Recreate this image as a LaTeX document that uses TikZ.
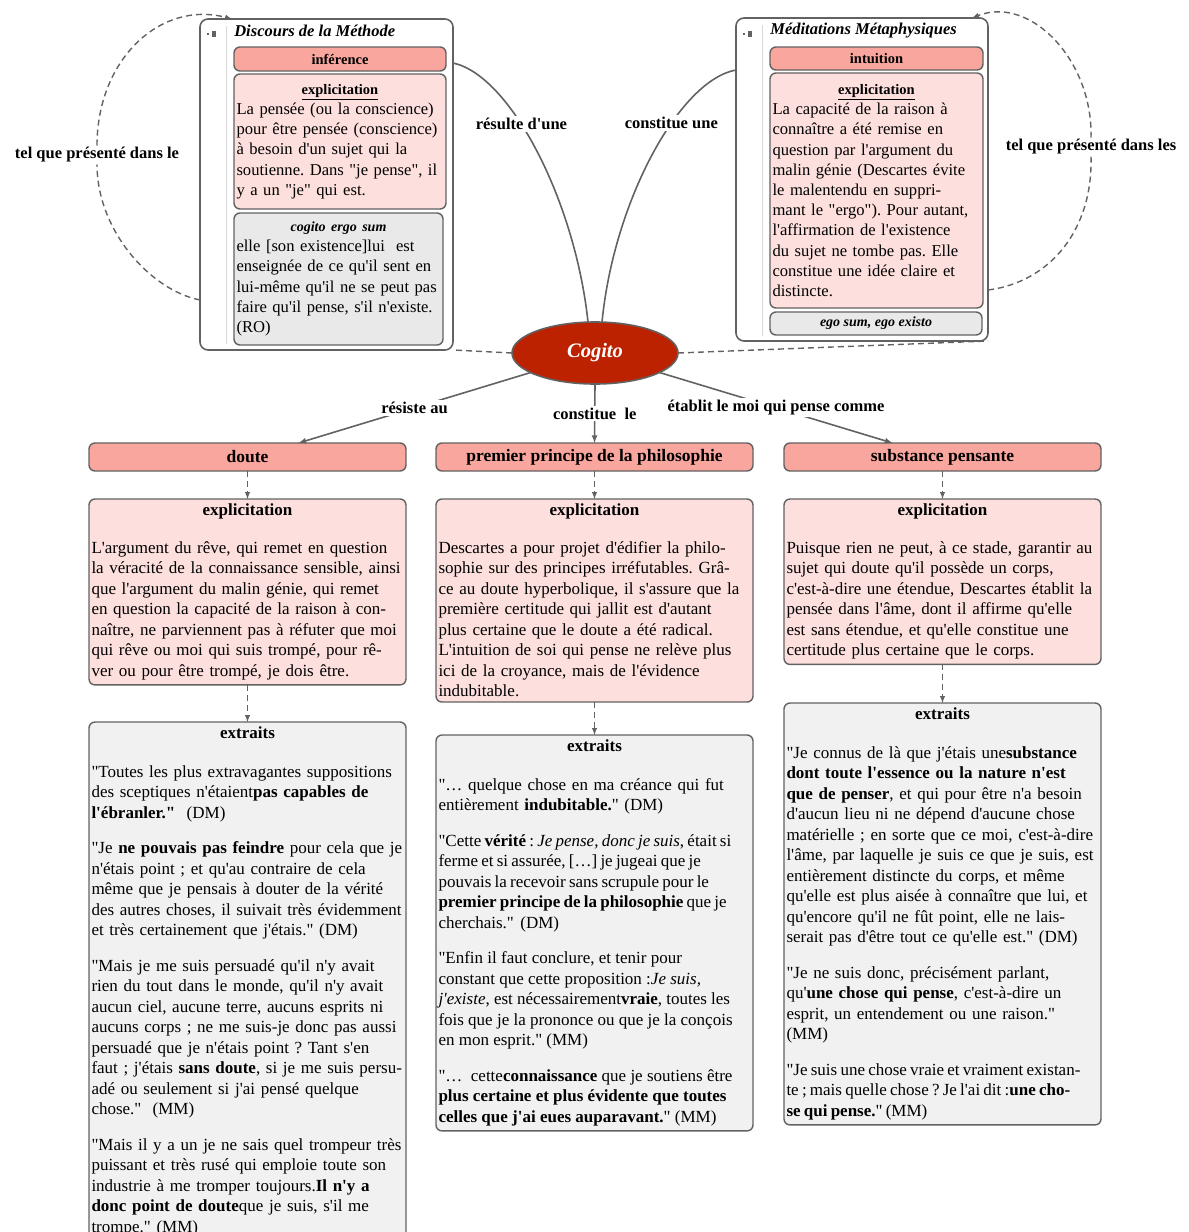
\documentclass[tikz,border=0pt]{standalone}
\usepackage{fontspec}
\setmainfont{Liberation Serif}[Ligatures=TeXOff]
\usetikzlibrary{arrows,shapes.geometric}
\frenchspacing
\definecolor{saumon}{RGB}{249,166,158}
\definecolor{rose}{RGB}{253,224,221}
\definecolor{grisclair}{RGB}{233,233,233}
\definecolor{grisfond}{RGB}{241,241,241}
\definecolor{trait}{RGB}{98,98,98}
\definecolor{rouge}{RGB}{188,34,0}

\begin{document}
\begin{tikzpicture}[x=1pt,y=-1pt]
\tikzstyle{every node}=[outer sep=0pt]
\tikzstyle{cadre}=[draw=trait, line width=1.6pt, rounded corners=8pt, fill=white, anchor=north west]
\tikzstyle{titre}=[draw=trait, line width=1.4pt, rounded corners=6pt, fill=saumon, anchor=north west, font=\fontsize{17.5}{20}\selectfont\bfseries]
\tikzstyle{petittitre}=[titre, font=\fontsize{14.5}{17}\selectfont\bfseries]
\tikzstyle{expli}=[draw=trait, line width=1.4pt, rounded corners=6pt, fill=rose, anchor=north west, inner xsep=2.5pt, inner ysep=5pt, text width=312pt, font=\fontsize{17}{20.5}\selectfont]
\tikzstyle{extrait}=[expli, fill=grisfond]
\tikzstyle{petitexpli}=[expli, text width=207pt, font=\fontsize{16.6}{20.2}\selectfont]
\tikzstyle{lien}=[draw=trait, line width=1.6pt]
\tikzstyle{pointille}=[lien, line width=1.4pt, dash pattern=on 6pt off 4pt]
\tikzstyle{etiq}=[fill=white, inner sep=2pt, font=\fontsize{16.5}{19}\selectfont\bfseries]
\useasboundingbox (0,0) rectangle (1189,1232);

\node[cadre, minimum width=253pt, minimum height=331pt] (dm) at (200,19) {};
\draw[black!15, line width=1pt] (226,26) -- (226,344);
\fill[trait] (207,33) rectangle (209,35);
\fill[trait] (212,31) rectangle (216,37);
\node[anchor=west, font=\fontsize{16.5}{19}\selectfont\bfseries\itshape] (dmtitre) at (231,31) {Discours de la Méthode};
\node[petittitre, minimum width=212pt, minimum height=24pt] (inference) at (234,47) {inférence};
\node[petitexpli, minimum height=135pt] (dmexp) at (234,74) {{\centering\fontsize{14.5}{17}\selectfont\bfseries\underline{explicitation}\par}\raggedright
La pensée (ou la conscience)\\
pour être pensée (conscience)\\
à besoin d'un sujet qui la\\
soutienne. Dans "je pense", il\\
y a un "je" qui est.};
\node[petitexpli, fill=grisclair, text width=204pt, minimum height=132pt] (dmcitation) at (234,213) {{\centering\fontsize{14}{17}\selectfont\bfseries\itshape cogito ergo sum\par}\raggedright
elle [son existence]lui\ \ est\\
enseignée de ce qu'il sent en\\
lui-même qu'il ne se peut pas\\
faire qu'il pense, s'il n'existe.\\
(RO)};

\node[cadre, minimum width=252pt, minimum height=323pt] (mm) at (736,18) {};
\draw[black!15, line width=1pt] (762,25) -- (762,336);
\fill[trait] (743,33) rectangle (745,35);
\fill[trait] (748,31) rectangle (752,37);
\node[anchor=west, font=\fontsize{16.5}{19}\selectfont\bfseries\itshape] (mmtitre) at (767,31) {Méditations Métaphysiques};
\node[petittitre, minimum width=213pt, minimum height=23pt] (intuition) at (770,47) {intuition};
\node[petitexpli, text width=208pt, minimum height=235pt] (mmexp) at (770,73) {{\centering\fontsize{14.5}{17}\selectfont\bfseries\underline{explicitation}\par}\raggedright
La capacité de la raison à\\
connaître a été remise en\\
question par l'argument du\\
malin génie (Descartes évite\\
le malentendu en suppri-\\
mant le "ergo"). Pour autant,\\
l'affirmation de l'existence\\
du sujet ne tombe pas. Elle\\
constitue une idée claire et\\
distincte.};
\node[petittitre, fill=grisclair, minimum width=212pt, minimum height=23pt, font=\fontsize{14}{16}\selectfont\bfseries\itshape] (egosum) at (770,312) {ego sum, ego existo};

\node[ellipse, draw=trait, line width=1.6pt, fill=rouge, text=white, minimum width=166pt, minimum height=62pt, font=\fontsize{20.5}{24}\selectfont\bfseries\itshape] (cogito) at (595,353) {Cogito};

\node[titre, minimum width=317pt, minimum height=28pt] (doute) at (89,443) {doute};
\node[titre, minimum width=317pt, minimum height=28pt] (premier) at (436,443) {premier principe de la philosophie};
\node[titre, minimum width=317pt, minimum height=28pt] (substance) at (784,443) {substance pensante};

\node[expli] (doutexp) at (89,499) {{\centering\bfseries explicitation\par}\vspace{17pt}\raggedright
L'argument du rêve, qui remet en question\\
la véracité de la connaissance sensible, ainsi\\
que l'argument du malin génie, qui remet\\
en question la capacité de la raison à con-\\
naître, ne parviennent pas à réfuter que moi\\
qui rêve ou moi qui suis trompé, pour rê-\\
ver ou pour être trompé, je dois être.};
\node[expli] (premexp) at (436,499) {{\centering\bfseries explicitation\par}\vspace{17pt}\raggedright
Descartes a pour projet d'édifier la philo-\\
sophie sur des principes irréfutables. Grâ-\\
ce au doute hyperbolique, il s'assure que la\\
première certitude qui jallit est d'autant\\
plus certaine que le doute a été radical.\\
L'intuition de soi qui pense ne relève plus\\
ici de la croyance, mais de l'évidence\\
indubitable.};
\node[expli] (subexp) at (784,499) {{\centering\bfseries explicitation\par}\vspace{17pt}\raggedright
Puisque rien ne peut, à ce stade, garantir au\\
sujet qui doute qu'il possède un corps,\\
c'est-à-dire une étendue, Descartes établit la\\
pensée dans l'âme, dont il affirme qu'elle\\
est sans étendue, et qu'elle constitue une\\
certitude plus certaine que le corps.};

\node[extrait] (doutextr) at (89,722) {{\centering\bfseries extraits\par}\vspace{18pt}\raggedright
"Toutes les plus extravagantes suppositions\\
des sceptiques n'étaient\textbf{pas capables de}\\
\textbf{l'ébranler."}\ \ (DM)\par\vspace{15pt}
"Je \textbf{ne pouvais pas feindre} pour cela que je\\
n'étais point ; et qu'au contraire de cela\\
même que je pensais à douter de la vérité\\
des autres choses, il suivait très évidemment\\
et très certainement que j'étais." (DM)\par\vspace{15pt}
"Mais je me suis persuadé qu'il n'y avait\\
rien du tout dans le monde, qu'il n'y avait\\
aucun ciel, aucune terre, aucuns esprits ni\\
aucuns corps ; ne me suis-je donc pas aussi\\
persuadé que je n'étais point ? Tant s'en\\
faut ; j'étais \textbf{sans doute}, si je me suis persu-\\
adé ou seulement si j'ai pensé quelque\\
chose."\ \ (MM)\par\vspace{15pt}
"Mais il y a un je ne sais quel trompeur très\\
puissant et très rusé qui emploie toute son\\
industrie à me tromper toujours.\textbf{Il n'y a}\\
\textbf{donc point de doute}que je suis, s'il me\\
trompe." (MM)};
\node[extrait] (premextr) at (436,735) {{\centering\bfseries extraits\par}\vspace{18pt}\raggedright
"… quelque chose en ma créance qui fut\\
entièrement \textbf{indubitable.}" (DM)\par\vspace{15pt}
\spaceskip=.19em plus .1em minus .04em
"Cette \textbf{vérité} : \textit{Je pense, donc je suis}, était si\\
ferme et si assurée, […] je jugeai que je\\
pouvais la recevoir sans scrupule pour le\\
\textbf{premier principe de la philosophie} que je\\
cherchais."\ \ (DM)\par\vspace{15pt}\spaceskip=0pt
"Enfin il faut conclure, et tenir pour\\
constant que cette proposition :\textit{Je suis,}\\
\textit{j'existe}, est nécessairement\textbf{vraie}, toutes les\\
fois que je la prononce ou que je la conçois\\
en mon esprit." (MM)\par\vspace{15pt}
"…\ \ cette\textbf{connaissance} que je soutiens être\\
\textbf{plus certaine et plus évidente que toutes}\\
\textbf{celles que j'ai eues auparavant.}" (MM)};
\node[extrait] (subextr) at (784,703) {{\centering\bfseries extraits\par}\vspace{18pt}\raggedright
"Je connus de là que j'étais une\textbf{substance}\\
\textbf{dont toute l'essence ou la nature n'est}\\
\textbf{que de penser}, et qui pour être n'a besoin\\
d'aucun lieu ni ne dépend d'aucune chose\\
matérielle ; en sorte que ce moi, c'est-à-dire\\
l'âme, par laquelle je suis ce que je suis, est\\
entièrement distincte du corps, et même\\
qu'elle est plus aisée à connaître que lui, et\\
qu'encore qu'il ne fût point, elle ne lais-\\
serait pas d'être tout ce qu'elle est." (DM)\par\vspace{15pt}
"Je ne suis donc, précisément parlant,\\
qu'\textbf{une chose qui pense}, c'est-à-dire un\\
esprit, un entendement ou une raison."\\
(MM)\par\vspace{15pt}
\spaceskip=.19em plus .1em minus .04em
"Je suis une chose vraie et vraiment existan-\\
te ; mais quelle chose ? Je l'ai dit :\textbf{une cho-}\\
\textbf{se qui pense.}" (MM)};

\draw[lien] ([yshift=-44pt]dm.north east) .. controls +(57,12) and +(-13,-122) .. ([xshift=-7pt]cogito.north) node[etiq,pos=.4] {résulte d'une};
\draw[lien] ([xshift=7pt]cogito.north) .. controls +(12,-122) and +(-56,10) .. ([yshift=-52pt]mm.north west) node[etiq,pos=.62] {constitue une};

\node[etiq] (dmlien) at (97,155) {tel que présenté dans le};
\draw[pointille] (cogito.west) -- (dm.south east);
\draw[pointille] ([yshift=50pt]dm.south west) .. controls (150,290) and (97,230) .. (dmlien.south);
\draw[pointille,-latex] (dmlien.north) .. controls (97,60) and (160,0) .. ([xshift=32pt]dm.north west);
\node[etiq] (mmlien) at (1091,147) {tel que présenté dans les};
\draw[pointille] (cogito.east) -- (mm.south east);
\draw[pointille] ([yshift=51pt]mm.south east) .. controls (1050,282) and (1093,230) .. (mmlien.south);
\draw[pointille,-latex] (mmlien.north) .. controls (1093,60) and (1030,-5) .. ([xshift=-16pt]mm.north east);

\draw[lien,-latex] (cogito) -- ([xshift=51pt]doute.north) node[etiq,pos=.5] {résiste au};
\draw[lien,-latex] (cogito.south) -- (premier.north) node[etiq,pos=.5] {constitue\ \ le};
\draw[lien,-latex] (cogito) -- ([xshift=-50pt]substance.north) node[etiq,pos=.5] {établit le moi qui pense comme};

\draw[pointille,-latex] (doute) -- (doutexp);
\draw[pointille,-latex] (doutexp) -- (doutextr);
\draw[pointille,-latex] (premier) -- (premexp);
\draw[pointille,-latex] (premexp) -- (premextr);
\draw[pointille,-latex] (substance) -- (subexp);
\draw[pointille,-latex] (subexp) -- (subextr);
\end{tikzpicture}
\end{document}
